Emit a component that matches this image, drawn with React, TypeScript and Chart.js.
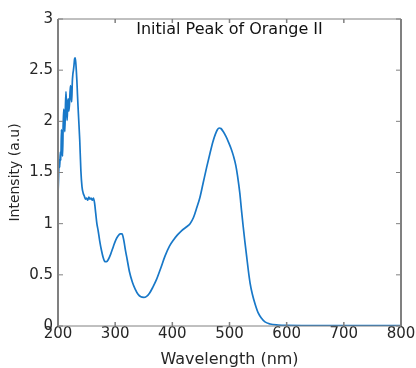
import React, { useEffect, useRef } from "react";
import { Chart, registerables } from "chart.js";

Chart.register(...registerables);

const titleText = "Initial Peak of Orange II";
const xLabel = "Wavelength (nm)";
const yLabel = "Intensity (a.u)";

const wavelengths = [
  200, 201, 202, 203, 204, 205, 206, 207, 208, 209, 210, 211, 212, 213, 214, 215,
  216, 217, 218, 219, 220, 221, 222, 223, 224, 225, 226, 227, 228, 229, 230, 231,
  232, 233, 234, 235, 236, 238, 240, 242, 244, 246, 248, 250, 252, 254, 256, 258,
  260, 262, 264, 266, 268, 270, 273, 276, 279, 282, 285, 288, 292, 297, 301, 305,
  309, 312, 315, 318, 321, 325, 330, 335, 340, 345, 350, 355, 360, 366, 372, 380,
  387, 395, 402, 409, 416, 425, 431, 437, 443, 448, 454, 460, 466, 471, 475, 479,
  482, 485, 489, 494, 498, 503, 507, 511, 514, 518, 521, 524, 527, 530, 533, 536,
  540, 545, 550, 556, 562, 571, 585, 600, 650, 700, 750, 800,
];

const intensity = [
  1.28, 1.45, 1.62, 1.55, 1.70, 1.62, 1.92, 1.75, 1.66, 1.95, 2.12, 1.98, 1.90, 2.15, 2.29, 2.10,
  2.01, 2.18, 2.22, 2.10, 2.16, 2.28, 2.35, 2.24, 2.19, 2.38, 2.46, 2.50, 2.55, 2.61, 2.62, 2.58,
  2.50, 2.40, 2.27, 2.15, 2.04, 1.82, 1.52, 1.36, 1.30, 1.27, 1.24, 1.25, 1.23, 1.26, 1.24, 1.25,
  1.23, 1.25, 1.20, 1.10, 1.00, 0.94, 0.83, 0.74, 0.67, 0.63, 0.63, 0.65, 0.70, 0.78, 0.84, 0.88,
  0.90, 0.90, 0.84, 0.74, 0.65, 0.53, 0.43, 0.36, 0.31, 0.285, 0.28, 0.29, 0.32, 0.38, 0.45, 0.57,
  0.68, 0.78, 0.84, 0.89, 0.93, 0.97, 1.00, 1.06, 1.16, 1.25, 1.40, 1.55, 1.69, 1.80, 1.87, 1.92,
  1.935, 1.93, 1.90, 1.85, 1.80, 1.73, 1.66, 1.57, 1.47, 1.30, 1.13, 0.97, 0.82, 0.68, 0.54, 0.42,
  0.31, 0.21, 0.13, 0.075, 0.04, 0.02, 0.01, 0.006, 0.004, 0.003, 0.004, 0.003,
];

const xTicks = [200, 300, 400, 500, 600, 700, 800];
const yTicks = [0, 0.5, 1, 1.5, 2, 2.5, 3];

const FONT = '"DejaVu Sans", "Liberation Sans", Arial, sans-serif';
const AXIS_COLOR = "#808080";
const TEXT_COLOR = "#262626";
const LINE_COLOR = "#1878C8";

const boxPlugin = {
  id: "matlabBox",
  afterDraw(chart: any) {
    const { ctx, chartArea } = chart;
    const { left, right, top, bottom } = chartArea;
    const xs = chart.scales.x;
    const ys = chart.scales.y;
    ctx.save();
    ctx.strokeStyle = AXIS_COLOR;
    ctx.lineWidth = 1;
    ctx.beginPath();
    ctx.moveTo(left, top);
    ctx.lineTo(right, top);
    ctx.moveTo(left, bottom);
    ctx.lineTo(right, bottom);
    ctx.stroke();
    ctx.lineWidth = 2;
    ctx.beginPath();
    ctx.moveTo(left, top);
    ctx.lineTo(left, bottom);
    ctx.moveTo(right, top);
    ctx.lineTo(right, bottom);
    ctx.stroke();
    ctx.lineWidth = 1.5;
    ctx.beginPath();
    xTicks.forEach((v) => {
      const px = xs.getPixelForValue(v);
      ctx.moveTo(px, bottom);
      ctx.lineTo(px, bottom - 4);
      ctx.moveTo(px, top);
      ctx.lineTo(px, top + 4);
    });
    ctx.stroke();
    ctx.lineWidth = 1;
    ctx.beginPath();
    yTicks.forEach((v) => {
      const py = ys.getPixelForValue(v);
      ctx.moveTo(left, py);
      ctx.lineTo(left + 5, py);
      ctx.moveTo(right, py);
      ctx.lineTo(right - 5, py);
    });
    ctx.stroke();
    ctx.fillStyle = "#111";
    ctx.font = `16px ${FONT}`;
    ctx.textAlign = "center";
    ctx.textBaseline = "alphabetic";
    ctx.fillText(titleText, (left + right) / 2, top + 15);
    ctx.restore();
  },
};

export default function App() {
  const canvasRef = useRef<HTMLCanvasElement | null>(null);

  useEffect(() => {
    const canvas = canvasRef.current;
    if (!canvas) return;
    const points = wavelengths.map((w, i) => ({ x: w, y: intensity[i] }));
    const chart = new Chart(canvas, {
      type: "line",
      data: {
        datasets: [
          {
            data: points,
            borderColor: LINE_COLOR,
            borderWidth: 1.7,
            pointRadius: 0,
            fill: false,
            cubicInterpolationMode: "monotone",
          },
        ],
      },
      options: {
        responsive: false,
        animation: false,
        events: [],
        layout: { padding: { left: 0, right: 15, top: 19, bottom: 0 } },
        plugins: {
          legend: { display: false },
          title: { display: false },
          tooltip: { enabled: false },
        },
        scales: {
          x: {
            type: "linear",
            min: 200,
            max: 800,
            grid: { display: false, drawTicks: false },
            border: { display: false },
            afterBuildTicks: (scale: any) => {
              scale.ticks = xTicks.map((v) => ({ value: v }));
            },
            afterFit: (scale: any) => {
              scale.height = 42;
            },
            ticks: {
              padding: -1,
              maxRotation: 0,
              autoSkip: false,
              color: TEXT_COLOR,
              font: { family: FONT, size: 15 },
              callback: (v: any) => String(v),
            },
            title: {
              display: true,
              text: xLabel,
              color: TEXT_COLOR,
              font: { family: FONT, size: 16, lineHeight: 1 },
              padding: { top: 0, bottom: 0 },
            },
          },
          y: {
            type: "linear",
            min: 0,
            max: 3,
            grid: { display: false, drawTicks: false },
            border: { display: false },
            afterBuildTicks: (scale: any) => {
              scale.ticks = yTicks.map((v) => ({ value: v }));
            },
            afterFit: (scale: any) => {
              scale.width = 58;
            },
            ticks: {
              padding: 5,
              autoSkip: false,
              color: TEXT_COLOR,
              font: { family: FONT, size: 15 },
              callback: (v: any) => String(v),
            },
            title: {
              display: true,
              text: yLabel,
              color: TEXT_COLOR,
              font: { family: FONT, size: 14, lineHeight: 1.2 },
              padding: { top: 7, bottom: 0 },
            },
          },
        },
      },
      plugins: [boxPlugin],
    });
    return () => chart.destroy();
  }, []);

  return (
    <div style={{ position: "absolute", left: 0, top: 0, width: 416, height: 368, background: "#fff" }}>
      <canvas ref={canvasRef} width={416} height={368} />
    </div>
  );
}
